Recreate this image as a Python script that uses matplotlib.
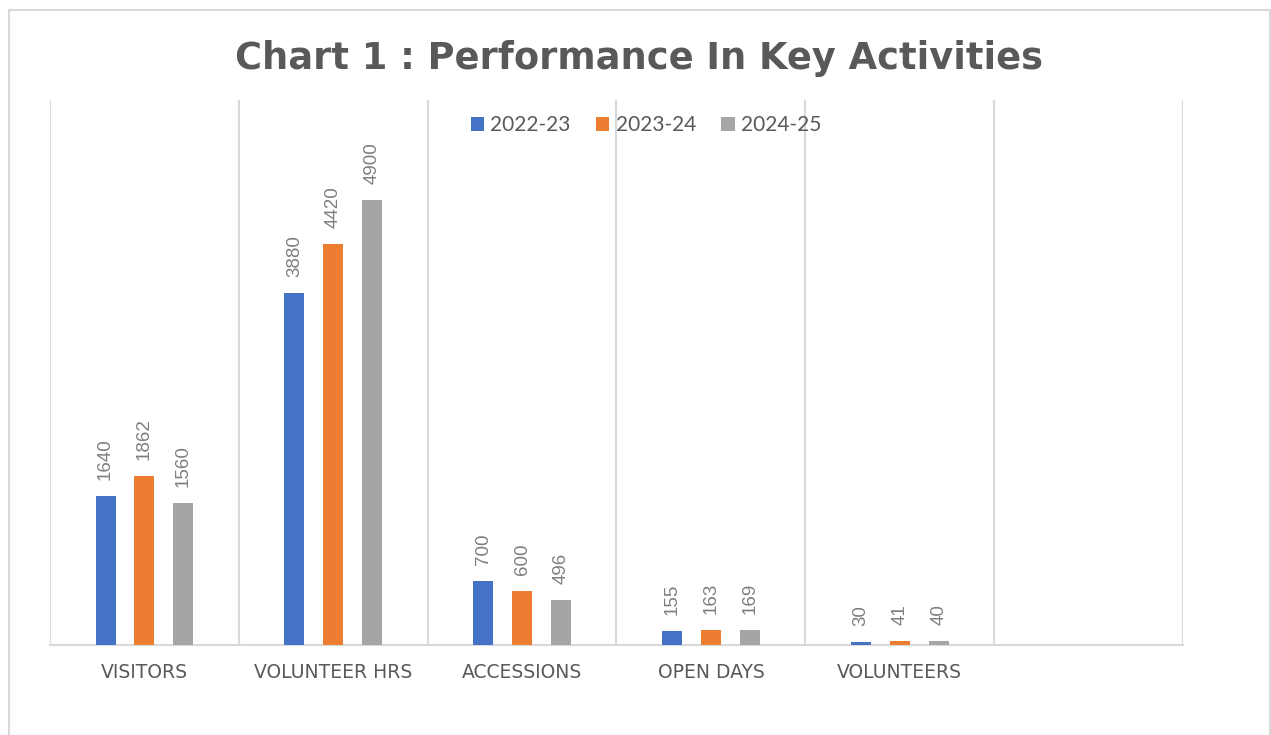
import numpy as np
import matplotlib
matplotlib.use('Agg')
import matplotlib.pyplot as plt
from matplotlib.patches import Rectangle

plt.rcParams['font.family'] = ['Lato', 'DejaVu Sans']

categories = ['VISITORS', 'VOLUNTEER HRS', 'ACCESSIONS', 'OPEN DAYS', 'VOLUNTEERS', '']
years = ['2022-23', '2023-24', '2024-25']
values_2022 = [1640, 3880, 700, 155, 30]
values_2023 = [1862, 4420, 600, 163, 41]
values_2024 = [1560, 4900, 496, 169, 40]
series = [values_2022, values_2023, values_2024]
colors = ['#4472C4', '#ED7D31', '#A5A5A5']

text_col = '#595959'
label_col = '#7F7F7F'
grid_col = '#D9D9D9'

fig = plt.figure(figsize=(12.71, 7.35), dpi=100)
ax = fig.add_axes([50 / 1271, 90 / 735, (1183 - 50) / 1271, 545 / 735])

# light border round the chart area
fig.patches.append(Rectangle((9 / 1271, -0.05), 1261 / 1271, 1.05 - 10 / 735,
                             transform=fig.transFigure, fill=False,
                             edgecolor=grid_col, linewidth=1.5))

x = np.arange(len(categories))
width = 0.106
step = 0.206
for i, (vals, year, col) in enumerate(zip(series, years, colors)):
    pos = x[:len(vals)] + (i - 1) * step
    bars = ax.bar(pos, vals, width, color=col, label=year, zorder=3)
    for b, v in zip(bars, vals):
        ax.annotate(str(v), (b.get_x() + b.get_width() / 2, b.get_height()),
                    xytext=(0, 11.5), textcoords='offset points',
                    rotation=90, ha='center', va='bottom',
                    fontsize=13.5, color=label_col, family='Liberation Sans')

ax.set_xlim(-0.5, len(categories) - 0.5)
ax.set_ylim(0, 6000)
ax.set_xticks(x)
ax.set_xticklabels(categories, fontsize=13.5, color=text_col, family='DejaVu Sans')
ax.set_xticks(np.arange(-0.5, len(categories), 1), minor=True)
ax.tick_params(axis='x', which='both', length=0, pad=13)
ax.set_yticks([])
ax.grid(axis='x', which='minor', color=grid_col, linewidth=1.5, zorder=0)
for side in ['top', 'left', 'right']:
    ax.spines[side].set_visible(False)
ax.spines['bottom'].set_color(grid_col)
ax.spines['bottom'].set_linewidth(1.5)

leg = ax.legend(loc='upper center', bbox_to_anchor=(0.526, 1.007), ncol=3,
                frameon=False, fontsize=15, handlelength=0.65, handleheight=0.65,
                columnspacing=1.2, handletextpad=0.3)
for t in leg.get_texts():
    t.set_color(text_col)

fig.text(0.503, 0.921, 'Chart 1 : Performance In Key Activities', ha='center',
         va='center', fontsize=26.5, fontweight='bold', color=text_col,
         family='DejaVu Sans')

fig.savefig('out.png', dpi=100)
